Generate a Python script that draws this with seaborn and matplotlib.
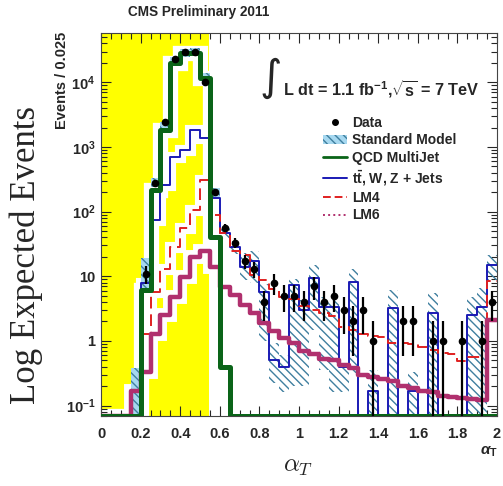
import numpy as np
import pandas as pd
import seaborn as sns
import matplotlib.pyplot as plt
from matplotlib.lines import Line2D
from matplotlib.patches import Patch
from matplotlib.ticker import FixedLocator, MultipleLocator, LogLocator, NullFormatter

# alpha_T bins, width 0.05 from 0 to 2
edges = np.round(np.arange(0, 2.0001, 0.05), 3)
centers = edges[:-1] + 0.025

qcd = [0, 0, 0, 0, 6.2, 215, 1800, 2.0e4, 2.8e4, 2.8e4, 1.15e4, 40, 0.4, 0, 0, 0, 0, 0, 0, 0,
       0, 0, 0, 0, 0, 0, 0, 0, 0, 0, 0, 0, 0, 0, 0, 0, 0, 0, 0, 0]
ewk = [0, 0, 0, 0.17, 8, 74, 260, 700, 900, 1800, 1400, 160, 47, 28, 14, 17, 5.7, 0.5, 0.4, 7.4,
       3.0, 9.4, 3.4, 3.4, 0.4, 8.1, 0, 0.17, 0, 3.2, 0, 0.17, 0, 2.7, 0, 0, 0, 2.5, 3.4, 15]
lm4 = [0, 0, 0, 0, 1.3, 5.7, 13, 28, 56, 105, 310, 89, 47, 25, 21, 10.5, 8.8, 6.4, 4.8, 4.5,
       3.5, 3.0, 2.7, 2.4, 1.65, 1.5, 1.3, 1.2, 1.15, 0.93, 0.93, 0.9, 0.8, 0.72, 0.65, 0.63,
       0.49, 0.56, 0.56, 8.5]
lm6 = [0, 0, 0, 0.17, 0.33, 1.3, 2.5, 4.8, 9.8, 20, 25, 14, 6.8, 5.2, 3.6, 2.7, 1.9, 1.4, 1.1, 0.93,
       0.7, 0.62, 0.52, 0.5, 0.42, 0.38, 0.3, 0.28, 0.26, 0.24, 0.2, 0.19, 0.17, 0.16, 0.14,
       0.135, 0.13, 0.125, 0.12, 2.1]
sm_lo = [np.nan, np.nan, np.nan, 0.07, 6.6, 240, 1800, 1.8e4, 2.5e4, 2.6e4, 1.1e4, 170, 38, 22,
         8.8, 8, 1.0, 0.22, 0.16, 0.2, 0.2, 1.5, 0.36, 0.16, 0.16, 0.32, np.nan, 0.07, np.nan,
         0.07, np.nan, 0.07, np.nan, 0.07, np.nan, np.nan, np.nan, 0.07, 0.07, 8.8]
sm_hi = [np.nan, np.nan, np.nan, 0.38, 19, 330, 2400, 2.5e4, 3.3e4, 3.4e4, 1.4e4, 230, 58, 35,
         23, 25, 7.5, 0.93, 0.6, 9, 4.3, 15, 4.8, 4.3, 0.46, 13, np.nan, 0.36, np.nan,
         6.2, np.nan, 0.33, np.nan, 5.5, np.nan, np.nan, np.nan, 4.8, 6.6, 21]
data = [0, 0, 0, 0, 11, 280, 2400, 23000, 30000, 29000, 10000, 200, 56, 33, 17, 13, 4, 8, 5, 5,
        4, 7, 4, 5, 3, 2, 3, 1, 0, 0, 2, 2, 0, 1, 1, 0, 1, 0, 1, 4]

xticks = [0, 0.2, 0.4, 0.6, 0.8, 1.0, 1.2, 1.4, 1.6, 1.8, 2.0]
xticklabels = ['0', '0.2', '0.4', '0.6', '0.8', '1', '1.2', '1.4', '1.6', '1.8', '2']
yticks = [0.1, 1, 10, 100, 1000, 1e4]
yticklabels = ['$10^{-1}$', '1', '10', '$10^{2}$', '$10^{3}$', '$10^{4}$']

ymin, ymax = 0.069, 5.8e4

sns.set_style("ticks")
plt.rcParams['font.family'] = ['Liberation Sans', 'DejaVu Sans']
plt.rcParams['font.weight'] = 'bold'
plt.rcParams['mathtext.fontset'] = 'custom'
plt.rcParams['mathtext.rm'] = 'Liberation Sans:bold'
plt.rcParams['mathtext.it'] = 'Liberation Sans:bold:italic'
plt.rcParams['mathtext.bf'] = 'Liberation Sans:bold'
plt.rcParams['hatch.linewidth'] = 1.0

fig = plt.figure(figsize=(5.03, 4.86), dpi=100)
ax = fig.add_axes([101 / 503, 1 - 416 / 486, 396 / 503, 383 / 486])
ax.set_yscale('log')


def steps(vals, n=None):
    v = np.clip(np.asarray(vals, dtype=float), ymin, None)
    df = pd.DataFrame({'x': edges, 'y': np.append(v, v[-1])})
    if n is not None:
        df = df.iloc[:n + 1]
    return df


# yellow band on the low alpha_T side
ax.axvspan(0, 0.545, color='#ffff00', lw=0, zorder=0)

# white halos around lines inside the yellow band
for vals, w in [(qcd, 11), (ewk, 8), (lm4, 8), (lm6, 10)]:
    sns.lineplot(data=steps(vals, 13), x='x', y='y', drawstyle='steps-post', color='white',
                 lw=w, zorder=0.5, ax=ax, legend=False, solid_joinstyle='miter')

# Standard Model uncertainty band
lo = np.array(sm_lo)
hi = np.array(sm_hi)
face = ['#a6d8f0' if c < 0.6 else 'none' for c in centers]
ax.bar(edges[:-1], hi - lo, bottom=lo, width=0.05, align='edge', color=face,
       edgecolor='#3f7f9f', hatch='\\\\\\\\', lw=0, zorder=1)

sns.lineplot(data=steps(ewk), x='x', y='y', drawstyle='steps-post', color='#1a1ab4',
             lw=1.4, zorder=3, ax=ax, legend=False)
sns.lineplot(data=steps(lm4), x='x', y='y', drawstyle='steps-post', color='#e02020',
             lw=1.4, zorder=3.5, ax=ax, legend=False)
ax.lines[-1].set_dashes([6, 3])
sns.lineplot(data=steps(lm6), x='x', y='y', drawstyle='steps-post', color='#b0306e',
             lw=3.2, zorder=4, ax=ax, legend=False)
sns.lineplot(data=steps(qcd), x='x', y='y', drawstyle='steps-post', color='#0a6418',
             lw=3.6, zorder=5, ax=ax, legend=False)

# data points with sqrt(N) errors
d = np.array(data, dtype=float)
m = d > 0
err_lo = np.where(d[m] - np.sqrt(d[m]) <= 0, d[m] - 1e-3, np.sqrt(d[m]))
ax.errorbar(centers[m], d[m], yerr=[err_lo, np.sqrt(d[m])], fmt='o', ms=4.5, color='black',
            lw=1.6, capsize=0, zorder=6)

ax.set_xlim(0, 2)
ax.set_ylim(ymin, ymax)
ax.xaxis.set_major_locator(FixedLocator(xticks))
ax.set_xticklabels(xticklabels)
ax.xaxis.set_minor_locator(MultipleLocator(0.05))
ax.yaxis.set_major_locator(FixedLocator(yticks))
ax.set_yticklabels(yticklabels)
ax.yaxis.set_minor_locator(LogLocator(base=10, subs=np.arange(2, 10)))
ax.yaxis.set_minor_formatter(NullFormatter())
ax.tick_params(which='both', direction='in', top=True, right=True, labelsize=10.5, width=0.8)
ax.tick_params(which='major', length=7)
ax.tick_params(which='minor', length=4)
ax.tick_params(axis='x', pad=8)
ax.tick_params(axis='y', pad=4)
ax.set_xlabel('')
ax.set_ylabel('')
for s in ax.spines.values():
    s.set_linewidth(0.8)
    s.set_color('#444444')

handles = [
    Line2D([], [], marker='o', color='black', ls='none', ms=4),
    Patch(facecolor='#a6d8f0', edgecolor='#3f7f9f', hatch='\\\\\\\\', lw=0),
    Line2D([], [], color='#0a6418', lw=2),
    Line2D([], [], color='#1a1ab4', lw=1.4),
    Line2D([], [], color='#e02020', lw=1.4, dashes=[4, 2]),
    Line2D([], [], color='#b0306e', lw=1.4, ls=':'),
]
labels = ['Data', 'Standard Model', 'QCD MultiJet', r't$\bar{\mathrm{t}}$, W, Z + Jets', 'LM4', 'LM6']
ax.legend(handles, labels, loc='upper left', bbox_to_anchor=(323 / 503, 1 - 116 / 486),
          bbox_transform=fig.transFigure, frameon=False, fontsize=10, borderpad=0,
          borderaxespad=0, handlelength=1.7, handletextpad=0.4, labelspacing=0.25)

fig.text(271 / 503, 1 - 78 / 486, '\u222b', fontsize=31, family='DejaVu Sans',
         weight='normal', ha='center', va='center')
fig.text(283 / 503, 1 - 89 / 486, r'L dt = 1.1 fb$^{-1}$,$\sqrt{\mathrm{s}}$ = 7 TeV',
         fontsize=11.7, ha='left', va='center')
fig.text(199 / 503, 1 - 12 / 486, 'CMS Preliminary 2011', fontsize=9.8, ha='center', va='center')
fig.text(62 / 503, 1 - 32 / 486, 'Events / 0.025', fontsize=10.5, rotation=90, ha='center', va='top')
fig.text(26 / 503, 1 - 255 / 486, 'Log Expected Events', family='Liberation Serif', weight='normal',
         fontsize=25, rotation=90, ha='center', va='center')
fig.text(298 / 503, 1 - 466 / 486, r'$\alpha_T$', math_fontfamily='cm', fontsize=18,
         ha='center', va='center')
fig.text(489 / 503, 1 - 452 / 486, r'$\alpha_{\mathrm{T}}$', fontsize=11, weight='normal',
         ha='center', va='center')

fig.savefig('out.png', dpi=100)
